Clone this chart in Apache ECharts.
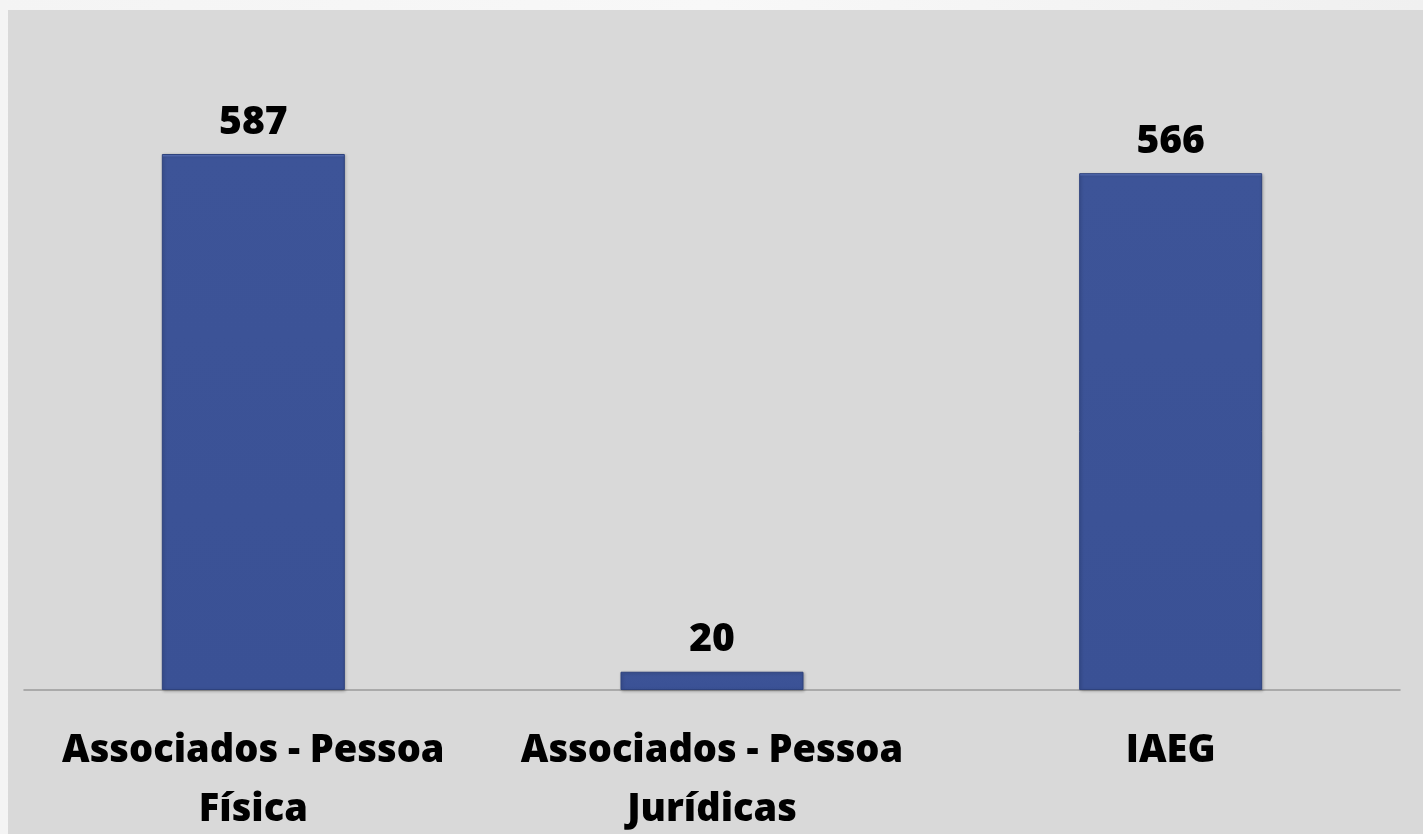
<!DOCTYPE html>
<html>
<head>
<meta charset="utf-8">
<script src="https://cdn.jsdelivr.net/npm/echarts@6/dist/echarts.min.js"></script>
<style>
  html, body { margin: 0; padding: 0; width: 1423px; height: 834px; overflow: hidden;
    background: linear-gradient(90deg, #f4f4f4, #f8f8f8 50%, #f0f0f0); }
  #chart { position: absolute; left: 8px; top: 10px; width: 1415px; height: 824px; }
</style>
</head>
<body>
<div id="chart"></div>
<script>
const categories = ['Associados - Pessoa\nFísica', 'Associados - Pessoa\nJurídicas', 'IAEG'];
const values = [587, 20, 566];

const chart = echarts.init(document.getElementById('chart'));
chart.setOption({
  backgroundColor: '#d9d9d9',
  animation: false,
  grid: { left: 16, right: 23, top: 40.8, bottom: 144, containLabel: false, outerBoundsMode: 'none' },
  xAxis: {
    type: 'category',
    data: categories,
    axisLine: { lineStyle: { color: '#9a9a9a', width: 1.5 } },
    axisTick: { show: false },
    axisLabel: {
      color: '#000',
      fontFamily: 'Open Sans',
      fontWeight: 800,
      fontSize: 38,
      lineHeight: 59,
      margin: 32,
      interval: 0
    }
  },
  yAxis: {
    type: 'value',
    min: 0,
    max: 700,
    show: false,
    splitLine: { show: false }
  },
  series: [{
    type: 'bar',
    data: values,
    barWidth: 183,
    itemStyle: {
      color: {
        type: 'linear', x: 0, y: 0, x2: 0, y2: 1,
        colorStops: [
          { offset: 0, color: '#6a85d2' },
          { offset: 0.006, color: '#3d5498' },
          { offset: 1, color: '#3a5195' }
        ]
      },
      borderColor: '#2e427d',
      borderWidth: 1,
      shadowColor: 'rgba(0,0,0,0.25)',
      shadowBlur: 3,
      shadowOffsetX: 1,
      shadowOffsetY: 1
    },
    label: {
      show: true,
      position: 'top',
      distance: 12,
      color: '#000',
      fontFamily: 'Open Sans',
      fontWeight: 800,
      fontSize: 39
    }
  }]
});
</script>
</body>
</html>
